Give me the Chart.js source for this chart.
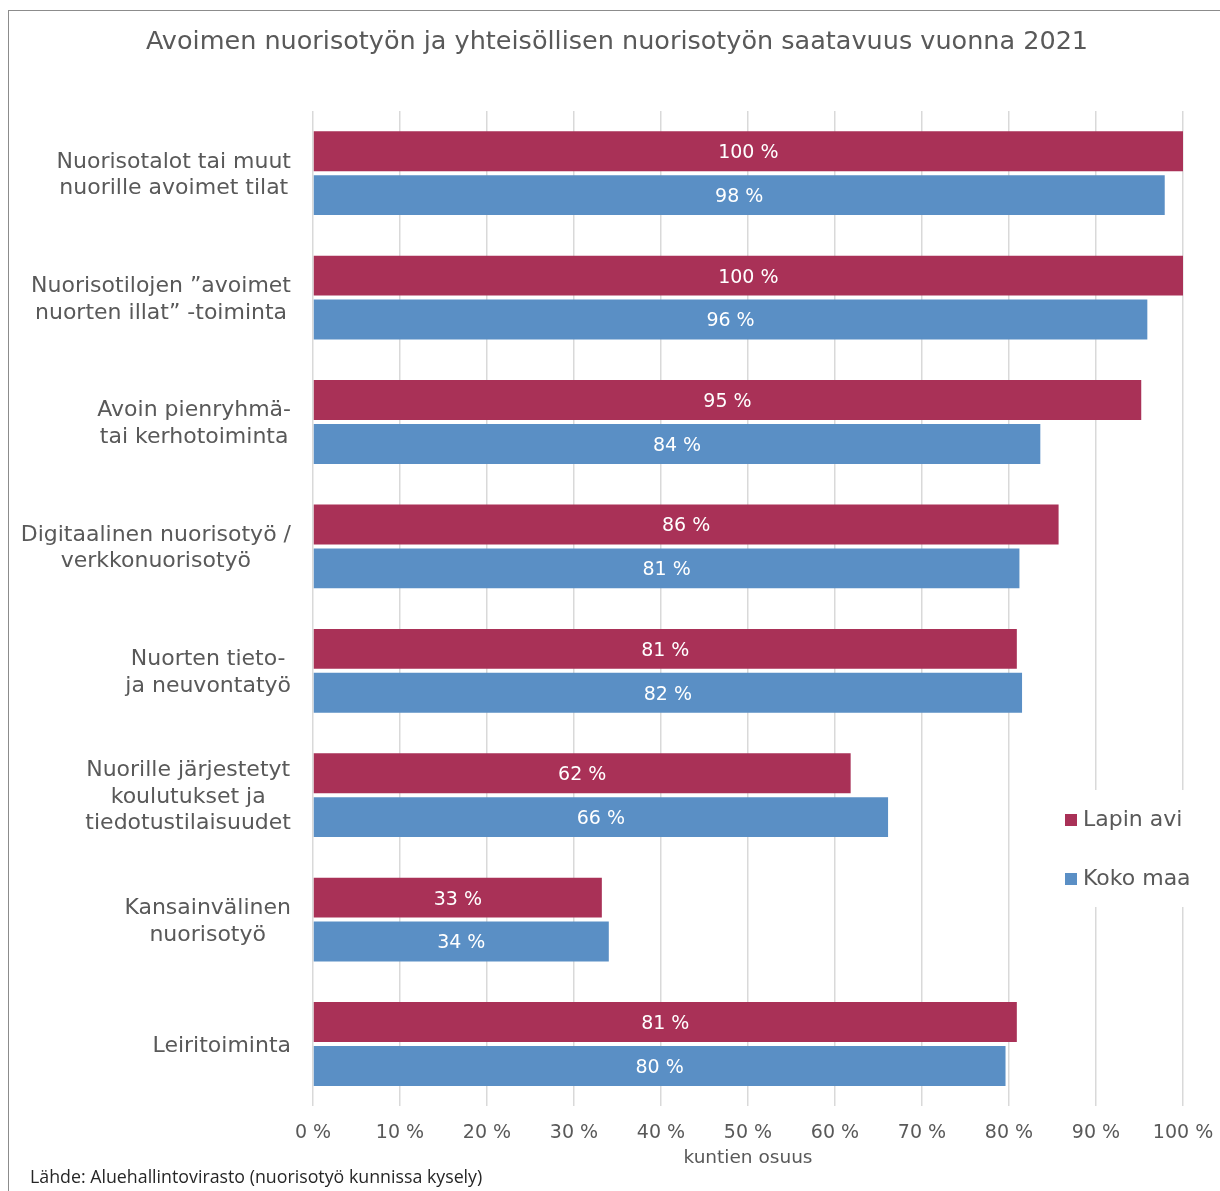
<!DOCTYPE html>
<html lang="fi">
<head>
<meta charset="utf-8">
<title>Avoimen nuorisotyön saatavuus 2021</title>
<script src="https://cdn.jsdelivr.net/npm/chart.js@4/dist/chart.umd.min.js"></script>
<style>
    html, body { margin: 0; padding: 0; background: #fff; overflow: hidden; }
    #wrap { position: relative; width: 1220px; height: 1191px; }
</style>
</head>
<body>
<div id="wrap"><canvas id="chart"></canvas></div>
<script>
// Categories (multi-line labels, as in the original)
const categories = [
    ['Nuorisotalot tai muut', 'nuorille avoimet tilat'],
    ['Nuorisotilojen ”avoimet', 'nuorten illat” -toiminta'],
    ['Avoin pienryhmä-', 'tai kerhotoiminta'],
    ['Digitaalinen nuorisotyö /', 'verkkonuorisotyö'],
    ['Nuorten tieto-', 'ja neuvontatyö'],
    ['Nuorille järjestetyt', 'koulutukset ja', 'tiedotustilaisuudet'],
    ['Kansainvälinen', 'nuorisotyö'],
    ['Leiritoiminta']
];

// Share of municipalities, %
const lapinAvi = [100, 100, 95.2, 85.7, 80.9, 61.8, 33.2, 80.9];
const kokoMaa = [97.9, 95.9, 83.6, 81.2, 81.5, 66.1, 34.0, 79.6];

const xTicks = [0, 10, 20, 30, 40, 50, 60, 70, 80, 90, 100];

const TITLE = 'Avoimen nuorisotyön ja yhteisöllisen nuorisotyön saatavuus vuonna 2021';
const X_TITLE = 'kuntien osuus';
const SOURCE = 'Lähde: Aluehallintovirasto (nuorisotyö kunnissa kysely)';
const TEXT_COLOR = '#595959';
const FONT = '"DejaVu Sans", Verdana, sans-serif';

Chart.defaults.font.family = FONT;
Chart.defaults.color = TEXT_COLOR;

// Title, frame, axis title and source line
const framePlugin = {
    id: 'frame',
    beforeDraw(chart) {
        const ctx = chart.ctx;
        ctx.save();
        ctx.fillStyle = '#fff';
        ctx.fillRect(0, 0, chart.width, chart.height);
        ctx.strokeStyle = '#8c8c8c';
        ctx.lineWidth = 1;
        ctx.strokeRect(8.5, 10.5, chart.width + 10, chart.height + 10);
        ctx.restore();
    },
    afterDraw(chart) {
        const ctx = chart.ctx;
        const area = chart.chartArea;
        ctx.save();
        ctx.fillStyle = TEXT_COLOR;
        ctx.textAlign = 'center';
        ctx.textBaseline = 'middle';
        ctx.font = '25.5px ' + FONT;
        ctx.fillText(TITLE, 617, 42);

        ctx.font = '18.5px ' + FONT;
        ctx.fillText(X_TITLE, (area.left + area.right) / 2, 1158);

        ctx.fillStyle = '#262626';
        ctx.font = '17.8px "Open Sans", sans-serif';
        ctx.textAlign = 'left';
        ctx.fillText(SOURCE, 30, 1178);
        ctx.restore();
    }
};

// Category labels: block right-aligned, lines centered inside the block
const categoryLabels = {
    id: 'categoryLabels',
    afterDraw(chart) {
        const ctx = chart.ctx;
        const yScale = chart.scales.y;
        const right = 291;
        const lineHeight = 26.5;
        ctx.save();
        ctx.font = '22px ' + FONT;
        ctx.fillStyle = TEXT_COLOR;
        ctx.textAlign = 'center';
        ctx.textBaseline = 'middle';
        chart.data.labels.forEach((lines, i) => {
            const widest = Math.max(...lines.map(l => ctx.measureText(l).width));
            const cx = right - widest / 2;
            const cy = yScale.getPixelForValue(i) + 2;
            lines.forEach((line, j) => {
                ctx.fillText(line, cx, cy + (j - (lines.length - 1) / 2) * lineHeight);
            });
        });
        ctx.restore();
    }
};

// White value labels in the middle of each bar
const valueLabels = {
    id: 'valueLabels',
    afterDatasetsDraw(chart) {
        const ctx = chart.ctx;
        ctx.save();
        ctx.font = '19px ' + FONT;
        ctx.fillStyle = '#fff';
        ctx.textAlign = 'center';
        ctx.textBaseline = 'middle';
        chart.data.datasets.forEach((ds, di) => {
            chart.getDatasetMeta(di).data.forEach((bar, i) => {
                const x = (bar.x + bar.base) / 2;
                ctx.fillText(Math.round(ds.data[i]) + ' %', x, bar.y + 2);
            });
        });
        ctx.restore();
    }
};

// Legend sitting over the right edge of the plot
const boxLegend = {
    id: 'boxLegend',
    afterDraw(chart) {
        const ctx = chart.ctx;
        ctx.save();
        ctx.fillStyle = '#fff';
        ctx.fillRect(1052, 790, 160, 117);
        ctx.font = '22px ' + FONT;
        ctx.textAlign = 'left';
        ctx.textBaseline = 'middle';
        chart.data.datasets.forEach((ds, i) => {
            const y = 820 + i * 59;
            ctx.fillStyle = ds.backgroundColor;
            ctx.fillRect(1065, y - 6, 12, 12);
            ctx.fillStyle = TEXT_COLOR;
            ctx.fillText(ds.label, 1083, y);
        });
        ctx.restore();
    }
};

const ctx = document.getElementById('chart').getContext('2d');
new Chart(ctx, {
    type: 'bar',
    data: {
        labels: categories,
        datasets: [
            {
                label: 'Lapin avi',
                data: lapinAvi,
                backgroundColor: '#A93157',
                categoryPercentage: 0.706,
                barPercentage: 0.909
            },
            {
                label: 'Koko maa',
                data: kokoMaa,
                backgroundColor: '#5A8FC5',
                categoryPercentage: 0.706,
                barPercentage: 0.909
            }
        ]
    },
    options: {
        indexAxis: 'y',
        responsive: true,
        maintainAspectRatio: false,
        animation: false,
        layout: {
            padding: { left: 305, right: 37, top: 111, bottom: 32 }
        },
        plugins: {
            legend: { display: false },
            title: { display: false },
            tooltip: { enabled: false }
        },
        scales: {
            x: {
                min: 0,
                max: 100,
                afterBuildTicks: (scale) => {
                    scale.ticks = xTicks.map(v => ({ value: v }));
                },
                // the layout padding already leaves room for the end labels
                afterFit: (scale) => {
                    scale.paddingLeft = 0;
                    scale.paddingRight = 0;
                },
                ticks: {
                    callback: (v) => v + ' %',
                    font: { size: 19 },
                    color: TEXT_COLOR,
                    padding: 15,
                    maxRotation: 0
                },
                grid: { color: '#D9D9D9', lineWidth: 1.5, drawTicks: false },
                border: { display: false }
            },
            y: {
                ticks: { display: false },
                grid: { display: false },
                border: { display: false }
            }
        }
    },
    plugins: [framePlugin, valueLabels, categoryLabels, boxLegend]
});
</script>
</body>
</html>
